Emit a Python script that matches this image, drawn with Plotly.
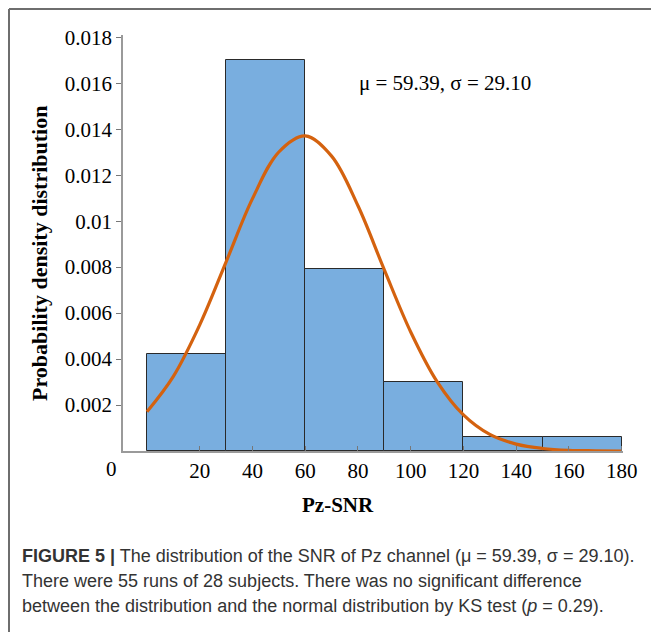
import plotly.graph_objects as go

# ---- data ----
bin_edges_left = [0, 30, 60, 90, 120, 150]
bin_width = 30
densities = [0.0042, 0.0170, 0.0079, 0.0030, 0.0006, 0.0006]

curve_x = [0, 10, 20, 30, 40, 50, 60, 70, 80, 90, 100, 110, 120, 130, 140, 150, 160, 170, 180]
curve_y = [0.00171, 0.00325, 0.00549, 0.00823, 0.01098, 0.01301, 0.01371, 0.01283, 0.01067,
           0.00788, 0.00518, 0.00302, 0.00157, 0.00072, 0.00030, 0.00011, 0.00003, 0.00001, 0.0]

x_tickvals = [20, 40, 60, 80, 100, 120, 140, 160, 180]
x_ticktext = ["20", "40", "60", "80", "100", "120", "140", "160", "180"]
y_tickvals = [0.002, 0.004, 0.006, 0.008, 0.010, 0.012, 0.014, 0.016, 0.018]
y_ticktext = ["0.002", "0.004", "0.006", "0.008", "0.01", "0.012", "0.014", "0.016", "0.018"]

stats_text = "μ = 59.39, σ = 29.10"
caption_lines = [
    "<b>FIGURE 5 |</b> The distribution of the SNR of Pz channel (μ = 59.39, σ = 29.10).",
    "There were 55 runs of 28 subjects. There was no significant difference",
    "between the distribution and the normal distribution by KS test (<i>p</i> = 0.29).",
]

# ---- figure ----
OFF = 8  # page body margin
W, H = 659 - OFF, 632 - OFF
# target plot area in page pixels: x 123..623, y 35..451
L, T = 123 - OFF, 35 - OFF
R = W - (623 - OFF)
B = H - (451 - OFF)
PW, PH = W - L - R, H - T - B


def px(xp):
    return (xp - OFF - L) / PW


def py(yp):
    return (H - B - (yp - OFF)) / PH


serif = "Liberation Serif, Times New Roman, serif"
sans = "Liberation Sans, Arial, sans-serif"

fig = go.Figure()
fig.add_trace(go.Bar(
    x=[e + bin_width / 2 for e in bin_edges_left],
    y=densities,
    width=[bin_width] * len(densities),
    marker=dict(color="#79aedf", line=dict(color="#2a2a2a", width=1)),
    showlegend=False,
))
fig.add_trace(go.Scatter(
    x=curve_x, y=curve_y, mode="lines",
    line=dict(color="#d4620f", width=3.2, shape="spline", smoothing=1.0),
    showlegend=False,
))

fig.update_layout(
    width=W, height=H,
    margin=dict(l=L, r=R, t=T, b=B, pad=0),
    paper_bgcolor="white", plot_bgcolor="white",
    bargap=0,
    xaxis=dict(
        range=[-9.1, 180.5], showgrid=False, zeroline=False,
        showline=True, linecolor="#9a9a9a", linewidth=1.5,
        tickmode="array", tickvals=x_tickvals, ticktext=x_ticktext,
        ticks="inside", ticklen=5, tickcolor="#777", tickwidth=1,
        tickfont=dict(family=serif, size=21, color="black"),
    ),
    yaxis=dict(
        range=[0, 0.0181], showgrid=False, zeroline=False,
        showline=True, linecolor="#9a9a9a", linewidth=1.5,
        tickmode="array", tickvals=y_tickvals, ticktext=y_ticktext,
        ticks="outside", ticklen=5, tickcolor="#777", tickwidth=1,
        tickfont=dict(family=serif, size=21, color="black"),
    ),
)

ann = []
# origin label
ann.append(dict(x=px(111), y=py(469), xref="paper", yref="paper", text="0", showarrow=False,
                font=dict(family=serif, size=21, color="black"), xanchor="center", yanchor="middle"))
# axis titles
ann.append(dict(x=px(39), y=py(254), xref="paper", yref="paper", text="<b>Probability density distribution</b>",
                textangle=-90, showarrow=False, font=dict(family=serif, size=22, color="black"),
                xanchor="center", yanchor="middle"))
ann.append(dict(x=px(338), y=py(505), xref="paper", yref="paper", text="<b>Pz-SNR</b>",
                showarrow=False, font=dict(family=serif, size=21, color="black"),
                xanchor="center", yanchor="middle"))
# stats
ann.append(dict(x=px(357), y=py(83), xref="paper", yref="paper", text=stats_text,
                showarrow=False, font=dict(family=serif, size=21, color="black"),
                xanchor="left", yanchor="middle"))
# caption
for i, line in enumerate(caption_lines):
    ann.append(dict(x=px(20), y=py(556 + 25 * i), xref="paper", yref="paper", text=line,
                    showarrow=False, font=dict(family=sans, size=18, color="#333"),
                    xanchor="left", yanchor="middle", align="left"))
fig.update_layout(annotations=ann)

# frame lines (top and left edges of the figure box)
fig.add_shape(type="line", xref="paper", yref="paper", x0=px(9), x1=px(659), y0=py(9), y1=py(9),
              line=dict(color="#6e6e6e", width=2))
fig.add_shape(type="line", xref="paper", yref="paper", x0=px(9), x1=px(9), y0=py(9), y1=py(632),
              line=dict(color="#6e6e6e", width=2))

fig.write_html("out.html")
